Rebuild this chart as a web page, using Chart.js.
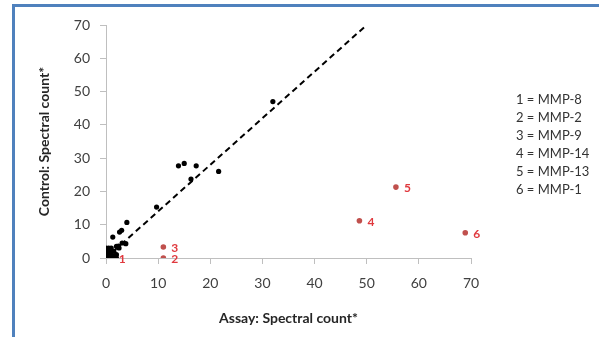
<!DOCTYPE html>
<html>
<head>
<meta charset="utf-8">
<script src="https://cdn.jsdelivr.net/npm/chart.js@4/dist/chart.umd.min.js"></script>
<style>
  html, body { margin: 0; padding: 0; background: #fff; }
  #wrap { position: relative; width: 599px; height: 337px; overflow: hidden; }
  #frame { position: absolute; left: 12px; top: 4px; right: -10px; bottom: -10px;
           border-left: 3px solid #4f81bd; border-top: 3px solid #4f81bd; }
  canvas { position: absolute; left: 0; top: 0; }
</style>
</head>
<body>
<div id="wrap">
  <div id="frame"></div>
  <canvas id="c" width="599" height="337"></canvas>
</div>
<script>
// proteins found in both samples (black dots)
const bothX = [32, 13.9, 15, 17.3, 21.6, 16.3, 9.7, 4, 1.3, 3, 2.6, 3.1, 3.8, 2.4,
               0, 0, 0, 0, 0.5, 1, 1, 1, 1.5, 2, 2, 2.5, 1.5, 0.3, 2, 0.7, 0.2, 1.2];
const bothY = [47, 27.7, 28.4, 27.7, 26, 23.7, 15.3, 10.7, 6.3, 8.3, 7.8, 4.5, 4.3, 3.6,
               0, 1, 2, 3, 3, 2, 3, 1, 2, 1, 0, 3, 0.5, 0.5, 3.5, 1.5, 2.5, 0];

// MMPs (red dots) and their numbers
const mmpX = [0.9, 11, 11, 48.6, 55.6, 68.9];
const mmpY = [0, 0, 3.3, 11.2, 21.3, 7.6];
const mmpNums = ['1', '2', '3', '4', '5', '6'];
const mmpNames = ['1 = MMP-8', '2 = MMP-2', '3 = MMP-9', '4 = MMP-14', '5 = MMP-13', '6 = MMP-1'];

// dashed reference line
const lineX = [0, 50];
const lineY = [0, 70];

const axisMin = 0;
const axisMax = 70;
const axisStep = 10;

const FONT = 'Lato, "Open Sans", sans-serif';

const toPoints = (xs, ys) => xs.map((x, i) => ({ x: x, y: ys[i] }));

// numbers next to the red dots
const pointLabels = {
  id: 'pointLabels',
  afterDatasetsDraw(chart) {
    const meta = chart.getDatasetMeta(2);
    const ctx = chart.ctx;
    ctx.save();
    ctx.font = 'bold 12px ' + FONT;
    ctx.fillStyle = '#e0393e';
    ctx.textBaseline = 'middle';
    meta.data.forEach((pt, i) => {
      ctx.fillText(mmpNums[i], pt.x + 8, pt.y + 1);
    });
    ctx.restore();
  }
};

// key text on the right
const keyText = {
  id: 'keyText',
  afterDraw(chart) {
    const ctx = chart.ctx;
    ctx.save();
    ctx.font = '13px ' + FONT;
    ctx.fillStyle = '#333';
    ctx.textBaseline = 'middle';
    mmpNames.forEach((t, i) => ctx.fillText(t, 516, 100 + i * 18));
    ctx.restore();
  }
};

new Chart(document.getElementById('c'), {
  type: 'scatter',
  data: {
    datasets: [
      {
        type: 'line',
        data: toPoints(lineX, lineY),
        borderColor: '#000',
        borderWidth: 2,
        borderDash: [6, 4],
        pointRadius: 0,
        fill: false
      },
      {
        data: toPoints(bothX, bothY),
        backgroundColor: '#000',
        borderWidth: 0,
        pointRadius: 2.6
      },
      {
        data: toPoints(mmpX, mmpY),
        backgroundColor: '#c0504d',
        borderWidth: 0,
        pointRadius: 2.8
      }
    ]
  },
  options: {
    responsive: false,
    animation: false,
    layout: { padding: { left: 36, right: 128, top: 25, bottom: 10 } },
    plugins: { legend: { display: false }, tooltip: { enabled: false } },
    scales: {
      x: {
        type: 'linear',
        min: axisMin, max: axisMax,
        afterFit(s) { s.height = 69; },
        ticks: { stepSize: axisStep, padding: 11, color: '#404040', font: { family: FONT, size: 14 } },
        grid: { drawOnChartArea: false, drawTicks: true, tickLength: 6, tickColor: '#bfbfbf' },
        border: { color: '#bfbfbf' },
        title: { display: true, text: 'Assay: Spectral count*', color: '#262626',
                 padding: 0, font: { family: FONT, size: 14, weight: 'bold' } }
      },
      y: {
        type: 'linear',
        min: axisMin, max: axisMax,
        afterFit(s) { s.width = 70; },
        ticks: { stepSize: axisStep, padding: 10, color: '#404040', font: { family: FONT, size: 14 } },
        grid: { drawOnChartArea: false, drawTicks: true, tickLength: 6, tickColor: '#bfbfbf' },
        border: { color: '#bfbfbf' },
        title: { display: true, text: 'Control: Spectral count*', color: '#262626',
                 padding: 0, font: { family: FONT, size: 14, weight: 'bold' } }
      }
    }
  },
  plugins: [pointLabels, keyText]
});
</script>
</body>
</html>
